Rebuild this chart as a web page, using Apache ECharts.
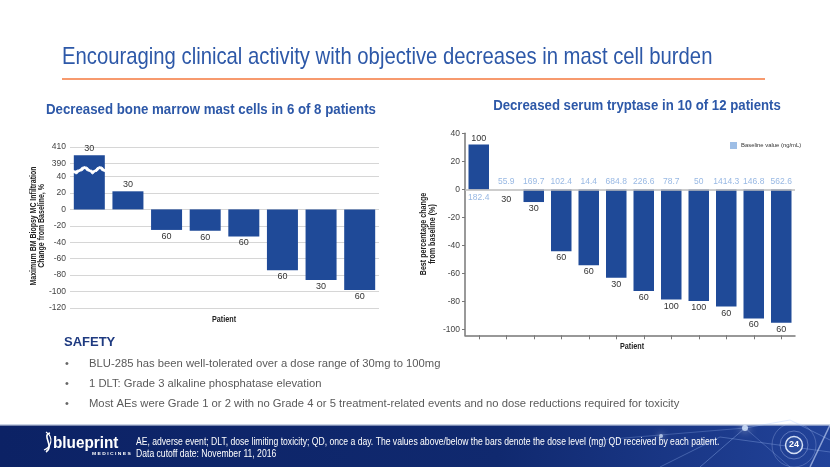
<!DOCTYPE html>
<html><head><meta charset="utf-8">
<script src="https://cdn.jsdelivr.net/npm/echarts@6/dist/echarts.min.js"></script>
<style>html,body{margin:0;padding:0;background:#fff}#c{width:830px;height:467px}</style>
</head><body><div id="c"></div>
<script>
// ---- data ----
const leftCategories = ['1','2','3','4','5','6','7','8'];
const leftValues = [400, 22, -25, -26, -33, -74, -86, -98];
const leftDose = [30, 30, 60, 60, 60, 60, 30, 60];
const leftTickValues = [-120, -100, -80, -60, -40, -20, 0, 20, 40, 390, 410];

const rightCategories = ['1','2','3','4','5','6','7','8','9','10','11','12'];
const rightValues = [32, 0, -9, -44, -54, -63, -72.5, -78.5, -79.5, -83.5, -92, -95];
const rightDose = [100, 30, 30, 60, 60, 30, 60, 100, 100, 60, 60, 60];
const rightBaseline = ['182.4', '55.9', '169.7', '102.4', '14.4', '684.8', '226.6', '78.7', '50', '1414.3', '146.8', '562.6'];
const rightTickValues = [-100, -80, -60, -40, -20, 0, 20, 40];

const bulletLines = [
  'BLU-285 has been well-tolerated over a dose range of 30mg to 100mg',
  '1 DLT: Grade 3 alkaline phosphatase elevation',
  'Most AEs were Grade 1 or 2 with no Grade 4 or 5 treatment-related events and no dose reductions required for toxicity'
];

// ---- styles ----
const SANS = "'Liberation Sans', Arial, sans-serif";
const BAR = '#1F4A98';
const TITLE = '#2D58A8';

const chart = echarts.init(document.getElementById('c'), null, {renderer: 'canvas'});

const graphics = [
  {type: 'text', x: 62, y: 57, scaleX: 0.845, style: {text: 'Encouraging clinical activity with objective decreases in mast cell burden', fill: TITLE, font: '24px ' + SANS, verticalAlign: 'middle'}},
  {type: 'line', shape: {x1: 62, y1: 79, x2: 765, y2: 79}, style: {stroke: '#F79A6E', lineWidth: 2}},
  {type: 'text', x: 211, y: 110, scaleX: 0.855, style: {text: 'Decreased bone marrow mast cells in 6 of 8 patients', fill: TITLE, font: 'bold 15.5px ' + SANS, align: 'center', verticalAlign: 'middle'}},
  {type: 'text', x: 637, y: 106, scaleX: 0.852, style: {text: 'Decreased serum tryptase in 10 of 12 patients', fill: TITLE, font: 'bold 15.5px ' + SANS, align: 'center', verticalAlign: 'middle'}},
  {type: 'text', x: 224, y: 320, scaleX: 0.85, style: {text: 'Patient', fill: '#222', font: 'bold 8.5px ' + SANS, align: 'center', verticalAlign: 'middle'}},
  {type: 'text', x: 632, y: 347, scaleX: 0.85, style: {text: 'Patient', fill: '#222', font: 'bold 8.5px ' + SANS, align: 'center', verticalAlign: 'middle'}},
  {type: 'text', x: 37.5, y: 226, rotation: Math.PI / 2, scaleX: 0.82, style: {text: 'Maximum BM Biopsy MC Infiltration\nChange from Baseline, %', fill: '#222', font: 'bold 8.5px ' + SANS, lineHeight: 8.5, align: 'center', verticalAlign: 'middle'}},
  {type: 'text', x: 428, y: 234, rotation: Math.PI / 2, scaleX: 0.84, style: {text: 'Best percentage change\nfrom baseline (%)', fill: '#222', font: 'bold 8.5px ' + SANS, lineHeight: 8.5, align: 'center', verticalAlign: 'middle'}},
  {type: 'text', x: 64, y: 342, style: {text: 'SAFETY', fill: '#1E3A80', font: 'bold 13px ' + SANS, verticalAlign: 'middle'}}
];
const bulletY = [363.5, 383.5, 404];
bulletLines.forEach((t, i) => {
  graphics.push({type: 'text', x: 65, y: bulletY[i], style: {text: '•', fill: '#666', font: '11px ' + SANS, verticalAlign: 'middle'}});
  graphics.push({type: 'text', x: 89, y: bulletY[i], style: {text: t, fill: '#5A5A5A', font: '11.25px ' + SANS, verticalAlign: 'middle'}});
});
// footer band
graphics.push(
  {type: 'rect', shape: {x: 0, y: 424, width: 830, height: 1.5}, style: {fill: '#C9D2E4'}},
  {type: 'rect', shape: {x: 0, y: 425.5, width: 830, height: 42}, style: {fill: new echarts.graphic.LinearGradient(0, 0, 1, 0, [{offset: 0, color: '#0C2265'}, {offset: 0.6, color: '#10296F'}, {offset: 1, color: '#22439A'}])}},
  {type: 'polyline', shape: {points: [[700, 467], [745, 428], [790, 420], [830, 440]]}, style: {stroke: 'rgba(170,200,255,0.35)', lineWidth: 1, fill: null}},
  {type: 'polyline', shape: {points: [[660, 467], [720, 437], [830, 452]]}, style: {stroke: 'rgba(170,200,255,0.3)', lineWidth: 1, fill: null}},
  {type: 'polyline', shape: {points: [[600, 440], [745, 428], [790, 467]]}, style: {stroke: 'rgba(170,200,255,0.25)', lineWidth: 1, fill: null}},
  {type: 'line', shape: {x1: 810, y1: 467, x2: 830, y2: 425}, style: {stroke: 'rgba(210,225,255,0.6)', lineWidth: 1.5}},
  {type: 'circle', shape: {cx: 745, cy: 428, r: 3}, style: {fill: 'rgba(220,235,255,0.8)', shadowBlur: 8, shadowColor: '#fff'}},
  {type: 'circle', shape: {cx: 661, cy: 436, r: 2}, style: {fill: 'rgba(220,235,255,0.7)', shadowBlur: 6, shadowColor: '#fff'}},
  {type: 'circle', shape: {cx: 794, cy: 445, r: 22}, style: {fill: null, stroke: 'rgba(200,215,255,0.25)', lineWidth: 1}},
  {type: 'circle', shape: {cx: 794, cy: 445, r: 14}, style: {fill: null, stroke: 'rgba(200,215,255,0.35)', lineWidth: 1}},
  {type: 'circle', shape: {cx: 794, cy: 445, r: 8.5}, style: {fill: '#2C4E9E', stroke: '#D5E0F5', lineWidth: 1.5}},
  {type: 'text', x: 794, y: 445, style: {text: '24', fill: '#fff', font: 'bold 9px ' + SANS, align: 'center', verticalAlign: 'middle'}},
  {type: 'text', x: 136, y: 442, scaleX: 0.86, style: {text: 'AE, adverse event; DLT, dose limiting toxicity; QD, once a day. The values above/below the bars denote the dose level (mg) QD received by each patient.', fill: '#fff', font: '10px ' + SANS, verticalAlign: 'middle'}},
  {type: 'text', x: 136, y: 454, scaleX: 0.86, style: {text: 'Data cutoff date: November 11, 2016', fill: '#fff', font: '10px ' + SANS, verticalAlign: 'middle'}},
  {type: 'bezierCurve', shape: {x1: 50, y1: 433, cpx1: 41, cpy1: 435, cpx2: 55, cpy2: 446, x2: 46, y2: 452}, style: {stroke: '#fff', lineWidth: 1.6, fill: null}},
  {type: 'bezierCurve', shape: {x1: 46, y1: 432, cpx1: 55, cpy1: 438, cpx2: 50, cpy2: 448, x2: 44, y2: 450}, style: {stroke: '#fff', lineWidth: 1.2, fill: null}},
  {type: 'text', x: 53, y: 443, scaleX: 0.9, style: {text: 'blueprint', fill: '#fff', font: 'bold 17px ' + SANS, verticalAlign: 'middle'}},
  {type: 'text', x: 92, y: 454, scaleX: 1.25, style: {text: 'M E D I C I N E S', fill: '#fff', font: 'bold 4px ' + SANS, verticalAlign: 'middle'}}
);

const option = {
  animation: false,
  backgroundColor: '#fff',
  textStyle: {fontFamily: SANS},
  grid: [
    {left: 70, top: 147, width: 309, height: 161, containLabel: false},
    {left: 465, top: 133.3, width: 330, height: 202, containLabel: false}
  ],
  legend: {
    data: ['Baseline value (ng/mL)'],
    left: 725, top: 137,
    icon: 'rect', itemWidth: 7, itemHeight: 7, itemGap: 4,
    textStyle: {fontSize: 5.9, color: '#333', fontFamily: SANS, padding: [0, 0, 0, -1]},
    selectedMode: false
  },
  xAxis: [
    {type: 'category', gridIndex: 0, data: leftCategories,
      axisLine: {show: false}, axisTick: {show: false}, axisLabel: {show: false}},
    {type: 'category', gridIndex: 1, data: rightCategories,
      axisLine: {show: true, onZero: false, lineStyle: {color: '#777', width: 1.5}},
      axisTick: {show: true, alignWithLabel: true, length: 4, lineStyle: {color: '#777'}},
      axisLabel: {show: false}}
  ],
  yAxis: [
    {type: 'value', gridIndex: 0, min: -120, max: 410,
      breaks: [{start: 46, end: 384, gap: '2%'}],
      breakArea: {show: true, expandOnClick: false, zigzagAmplitude: 2.5, zigzagMinSpan: 6, zigzagMaxSpan: 9,
        itemStyle: {color: '#fff', borderColor: '#fff', borderWidth: 1, opacity: 1}},
      axisLine: {show: false}, axisTick: {show: false, customValues: leftTickValues},
      axisLabel: {customValues: leftTickValues, color: '#444', fontSize: 8.5, margin: 4},
      splitLine: {show: true, lineStyle: {color: '#D6D6D6', width: 1}}},
    {type: 'value', gridIndex: 1, min: -104, max: 40,
      axisLine: {show: true, lineStyle: {color: '#777', width: 1.5}},
      axisTick: {show: true, length: 3, customValues: rightTickValues, lineStyle: {color: '#777'}},
      axisLabel: {customValues: rightTickValues, color: '#444', fontSize: 8.5, margin: 5},
      splitLine: {show: false}}
  ],
  series: [
    {type: 'bar', name: 'BM', xAxisIndex: 0, yAxisIndex: 0, barWidth: 31,
      itemStyle: {color: BAR},
      data: leftValues.map(v => ({value: v, label: {position: v > 0 ? 'top' : 'bottom'}})),
      label: {show: true, distance: 2, color: '#333', fontSize: 9,
        formatter: p => String(leftDose[p.dataIndex])}},
    {type: 'bar', name: 'Tryptase', xAxisIndex: 1, yAxisIndex: 1, barWidth: 20.5,
      itemStyle: {color: BAR},
      data: rightValues.map(v => ({value: v, label: {position: v > 0 ? 'top' : 'bottom', distance: v === 0 ? 6 : 2}})),
      label: {show: true, color: '#333', fontSize: 9,
        formatter: p => String(rightDose[p.dataIndex])},
      markLine: {silent: true, symbol: 'none', label: {show: false},
        lineStyle: {color: '#BDBDBD', width: 1.5, type: 'solid'}, data: [{yAxis: 0}]}},
    {type: 'scatter', name: 'Baseline value (ng/mL)', xAxisIndex: 1, yAxisIndex: 1,
      symbolSize: 0, itemStyle: {color: '#86AEE0'}, z: 5,
      data: rightBaseline.map((b, i) => ({value: [i, 0, b], label: {position: rightValues[i] > 0 ? 'bottom' : 'top', distance: rightValues[i] > 0 ? 3.5 : 3}})),
      label: {show: true, color: '#7EA6DC', fontSize: 8.5, formatter: p => p.value[2]}}
  ],
  graphic: graphics
};
chart.setOption(option);
</script></body></html>
